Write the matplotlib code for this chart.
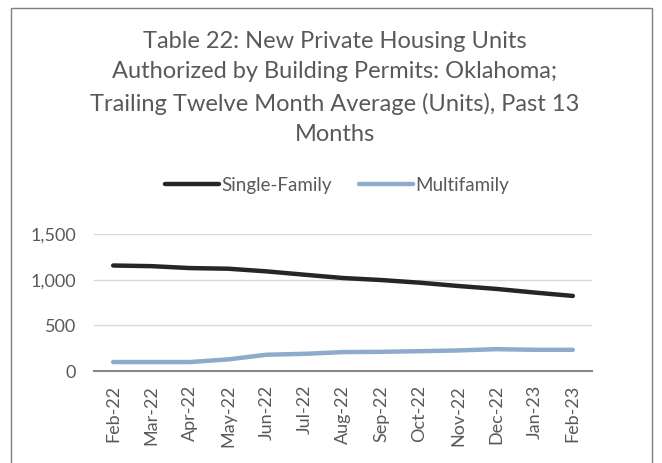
import numpy as np
import matplotlib
matplotlib.use('Agg')
import matplotlib.pyplot as plt
from matplotlib.patches import Rectangle

# data
months = ['Feb-22', 'Mar-22', 'Apr-22', 'May-22', 'Jun-22', 'Jul-22', 'Aug-22',
          'Sep-22', 'Oct-22', 'Nov-22', 'Dec-22', 'Jan-23', 'Feb-23']
single_family = [1155, 1148, 1127, 1120, 1091, 1054, 1018, 996, 967, 931, 899, 859, 822]
multifamily = [98, 98, 98, 127, 178, 188, 207, 210, 217, 225, 239, 232, 232]

grey = '#595959'
plt.rcParams['font.family'] = ['Lato', 'DejaVu Sans']

fig = plt.figure(figsize=(6.62, 4.63), dpi=100)
W, H = 662, 463

# outer frame of the chart box (bottom edge is cut off in the reference)
fig.patches.append(Rectangle((11 / W, -0.05), (652 - 11) / W, 1.05 - 8 / H,
                             transform=fig.transFigure, fill=False,
                             edgecolor='#7f7f7f', linewidth=1.0))

ax = fig.add_axes([94 / W, 1 - 371 / H, (592 - 94) / W, (371 - 234) / H])
x = np.arange(len(months))
l1, = ax.plot(x, single_family, color='#262626', linewidth=3.2,
              solid_capstyle='round', label='Single-Family')
l2, = ax.plot(x, multifamily, color='#8eabcb', linewidth=3.2,
              solid_capstyle='round', label='Multifamily')

ax.set_xlim(-0.5, len(months) - 0.5)
ax.set_ylim(0, 1500)
ax.set_yticks([0, 500, 1000, 1500])
ax.set_yticklabels(['0', '500', '1,000', '1,500'])
ax.set_xticks(x)
ax.set_xticklabels(months, rotation=90)
ax.tick_params(axis='both', colors=grey, labelsize=13, length=0)
ax.tick_params(axis='y', pad=13)
ax.tick_params(axis='x', pad=10)
ax.grid(axis='y', color='#d9d9d9', linewidth=1)
ax.set_axisbelow(True)
for s in ['top', 'right', 'left']:
    ax.spines[s].set_visible(False)
ax.spines['bottom'].set_color('#898989')
ax.spines['bottom'].set_linewidth(1.5)

fig.text(335 / W, 1 - 88 / H,
         'Table 22: New Private Housing Units\n'
         'Authorized by Building Permits: Oklahoma;\n'
         'Trailing Twelve Month Average (Units), Past 13\n'
         'Months',
         ha='center', va='center', color=grey, fontsize=17, linespacing=1.56)

fig.legend(handles=[l1, l2], loc='center', bbox_to_anchor=(337 / W, 1 - 185 / H),
           ncol=2, frameon=False, fontsize=13.5, labelcolor=grey,
           handlelength=2.9, handletextpad=0.1, columnspacing=1.45)

fig.savefig('out.png', dpi=100)
